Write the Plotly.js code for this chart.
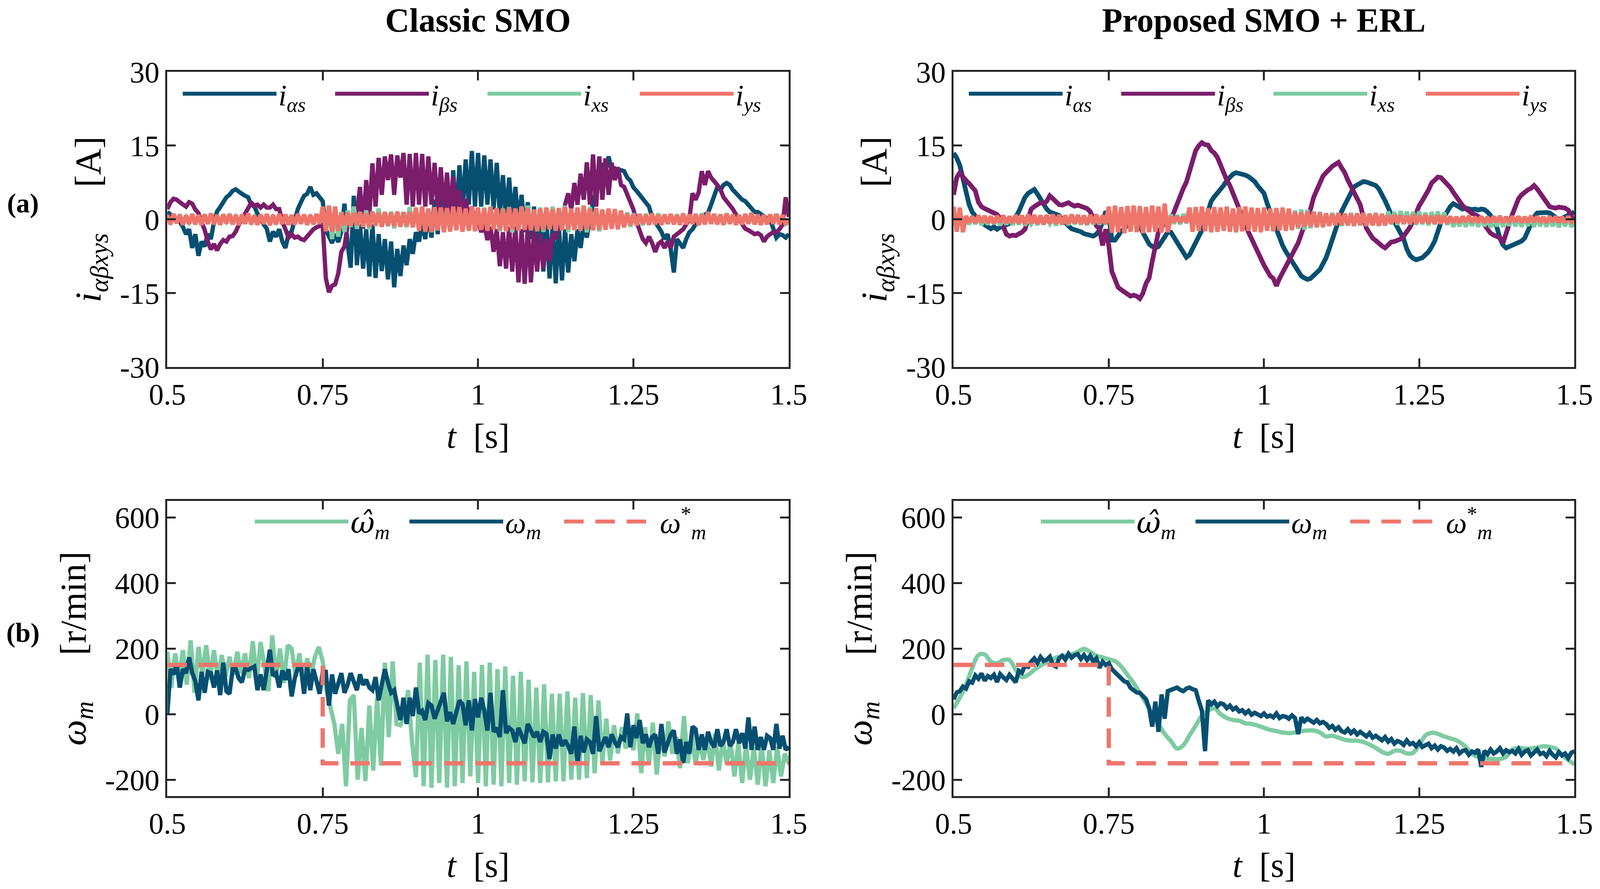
<!DOCTYPE html>
<html>
<head>
<meta charset="utf-8">
<script src="https://cdn.plot.ly/plotly-3.0.1.min.js"></script>
<style>
  html, body { margin: 0; padding: 0; background: #fff; overflow: hidden; }
  #graph { width: 100vw; height: 100vh; }
</style>
</head>
<body>
<div id="graph"></div>
<script>
// time base shared by every sampled series (seconds)
var tStart = 0.5;
var dtFast = 0.005;      // 201 samples, 0.5 .. 1.5
var dtEst = 0.00625;     // 161 samples for the classic speed estimate
var dtSlow = 0.01;       // 101 samples for the smooth estimate

var tickT = [0.5, 0.75, 1, 1.25, 1.5];
var tickTText = ['0.5', '0.75', '1', '1.25', '1.5'];
var tickI = [-30, -15, 0, 15, 30];
var tickIText = ['-30', '-15', '0', '15', '30'];
var tickW = [-200, 0, 200, 400, 600];
var tickWText = ['-200', '0', '200', '400', '600'];

// ---- (a) Classic SMO currents [A]
var clAlpha = [
  1.5, 1.0, 0.5, 0, -0.5, -1.5, -3, -2, -5.8, -3, -7.4, -4.5, -5.5, -3, -4, -0.5, 1.6, 2.5, 3.5, 4.5,
  5, 5.8, 6.1, 5.5, 5.2, 4.8, 4.5, 3, 2.6, 1.2, 0, -1, -1.9, -4.5, -2.5, -3.5, -2, -4.5, -5.8, -3,
  -2.4, 0, 2.1, 3.5, 4.8, 5.2, 6.6, 5, 5.3, 4.5, 3.7, -2.1, -3.5, -4.8, -3, -4.6, -2.5, 3.2, -5, -9.8,
  4.8, -9.3, -1, -10, -2, -11.6, -1, -11.9, -3, -10.5, -4, -12.2, -4.5, -13.8, -6, -11.5, -5.3, -9.3, -4, -7,
  -2.6, -4.5, -0.5, -4, 1.5, -3.7, 4, -3, 6.5, -2, 7.9, -1, 10, 0, 11, 1.5, 12.2, 3, 13.9, 2.6,
  13.5, 2.6, 13, 3, 12.2, 2, 11.5, 1, 9, 0, 8.5, -0.5, 6.6, -1, 5, -2.6, 3.5, -4, 2.6, -5.3,
  1, -10.6, 0, -12, -1, -13, -1.3, -12.4, -2, -10.8, -3, -8.5, -2, -5.8, -1, -3.7, 0.5, 3, 6, 10.6,
  11, 9.5, 12.8, 10, 10.3, 9.5, 10, 9.8, 8.5, 7.9, 6.5, 5.8, 5, 4.5, 3.5, 2.6, 0.5, -0.5, -1.3, -2.5,
  -4, -3, -6, -10.8, -4, -5, -5.8, -4, -2.6, -2, -1, -0.5, 0.5, 1, 1.3, 3, 5, 6.6, 6, 7,
  7.4, 7, 6, 5.3, 4.5, 4, 3.7, 3, 2.1, 1.5, 1.5, 1.1, 0.5, 0.2, 0, -2, -3.7, -3, -3.2, -3.7,
  -3
];
var clBeta = [
  2.1, 3.5, 4.2, 4, 3.5, 3, 2.6, 3.5, 3.2, 2, 1.3, -0.5, -2.1, -4.5, -6.1, -5, -6.3, -5, -4.2, -4.5,
  -3.5, -3.4, -2.5, -1.1, 0, 1.3, 2.5, 3.4, 2.8, 3, 2.4, 3, 2.4, 2.4, 3, 2.1, 2.1, -0.5, -2, -3.7,
  -3, -3.7, -3.5, -4, -4.2, -3.5, -2.6, -2, -1.6, -1.3, -1.1, -11.9, -14.8, -13.5, -13.2, -11, -6.6, -5.5, -1.3, -0.5,
  0, 1, 6.6, -1.9, 8, 0.5, 11.4, 2.6, 12.5, 5, 12.8, 8, 13.2, 5, 13, 8.5, 13.5, 3, 13.3, 2.6,
  13.5, 3, 13.3, 2.6, 12.8, 3, 11.5, 2, 10.6, 1.3, 9.5, 1.3, 8.7, 1, 6, 0.5, 4.2, 0, 2.6, -0.5,
  0, -2.6, -1, -4.2, -1.5, -6.6, -2, -9.5, -2.6, -10, -1.5, -10.6, -1.3, -12.8, -2, -13.1, -1.3, -12.8, -2.5, -10.6,
  -3, -10, -4, -8.5, -3, -4, 1.3, -1.3, 3, 5.3, 2, 7.4, 3, 9.3, 4, 11.6, 3, 13.2, 2.6, 12.8,
  4, 12.4, 5, 11.5, 8, 10.6, 7, 6.6, 5, 3.7, 2, -0.5, -2.1, -4, -4.8, -3.5, -4.8, -6.6, -5, -4.5,
  -5.8, -4.5, -5.8, -3.5, -3, -2.4, -2, -1, 0, 5.3, 4, 5.5, 9.8, 7, 9.8, 8.5, 7.9, 7, 6.1, 4.5,
  3.7, 3, 2.1, 1, 0, -1, -1.9, -2.2, -2.6, -3, -2.8, -3.2, -4.5, -3.5, -3, -2.6, -2.6, -2, -1, 4.5,
  0.5
];
var clX = [
  0.6, -0.5, 0.5, -0.6, 0.7, -0.4, 0.5, -0.6, 0.4, -0.5, 0.6, -0.7, 0.5, -0.4, 0.6, -0.5, 0.7, -0.6, 0.5, -0.5,
  0.6, -0.6, 0.5, -0.5, 0.7, -0.6, 0.6, -0.5, 0.5, -0.7, 0.6, -0.5, 0.7, -0.6, 0.5, -0.5, 0.6, -0.6, 0.7, -0.5,
  0.6, -0.5, 0.5, -0.7, 0.6, -0.6, 0.5, -0.5, 0.6, -0.6, 0.8, -1.5, 2.5, -4, 2, -3.5, 1.5, -2.5, 1.8, -1.5,
  2.6, -1.9, 1.5, -1.5, 1.8, -2, 1.5, -1.2, 2.2, -1.5, 1.2, -1.4, 1.6, -1.8, 1.3, -1.2, 1.5, -1.6, 2.5, -1.5,
  1.8, -1.5, 2.5, -1.8, 2.2, -1.6, 1.6, -2.2, 2.4, -1.5, 1.8, -2.5, 1.5, -1.8, 2, -1.5, 1.6, -2, 1.8, -1.6,
  2, -2, 2.4, -2.2, 2.6, -1.8, 2, -2.4, 2.2, -2, 2.5, -2.6, 2.2, -2, 2.6, -1.8, 2.8, -2.2, 2, -2,
  2.4, -2.5, 2, -1.8, 2.6, -2.2, 2.2, -2, 2.8, -2.6, 2, -2.2, 2.4, -1.8, 2.2, -2.6, 2.5, -2, 2.2, -2.4,
  1.8, -1.6, 1.5, -1.4, 1.6, -1.5, 1.3, -1.2, 1.4, -1.5, 1.2, -1.1, 1, -1.2, 1.1, -1, 1, -0.9, 1.2, -1,
  0.8, -0.9, 0.9, -0.7, 1, -0.8, 0.7, -0.8, 0.9, -0.7, 0.8, -0.8, 1.2, -0.6, 0.8, -0.7, 0.9, -0.8, 0.7, -0.9,
  0.8, -0.7, 0.7, -0.8, 0.9, -0.6, 0.8, -0.7, 0.6, -0.8, 0.7, -0.6, 0.8, -0.7, 0.6, -0.7, 0.8, -0.6, 0.7, -0.8,
  0
];
var clY = [
  0.9, -1, 1.1, -0.8, 1, -1.1, 0.8, -0.9, 1.1, -1, 0.9, -1.1, 1, -0.9, 1.2, -1, 0.9, -1.1, 1, -0.8,
  1.1, -1, 0.9, -1.1, 1, -0.9, 1.2, -1, 0.8, -1.1, 1, -0.9, 1.1, -1.2, 0.9, -1, 1.1, -0.9, 1, -1.1,
  0.9, -1, 1.1, -0.9, 1, -1.1, 0.9, -1, 1.1, -0.9, 2.6, -2.4, 2.8, -2.5, 2.6, -2.3, 1.3, -1.2, 1.4, -1.3,
  1.3, -1.2, 1.5, -1.4, 1.2, -1.5, 1.6, -1.3, 1.4, -1.5, 1.5, -1.2, 1.3, -1.4, 1.6, -1.5, 1.4, -1.3, 1.5, -1.6,
  2.4, -2.3, 2.6, -2.5, 2.2, -2.6, 2.5, -2.2, 2.4, -2.6, 2.3, -2.4, 2.6, -2.2, 2.5, -2.5, 2.2, -2.3, 2.6, -2.4,
  2.4, -2.1, 2.2, -2.3, 2.5, -2, 2.3, -2.2, 2.1, -2.4, 2.4, -2, 2.2, -2.3, 2.6, -2.1, 2.3, -2.2, 2, -2.4,
  2.2, -2.1, 2.4, -2, 2.1, -2.3, 2.3, -2.2, 2.5, -2, 2.2, -2.1, 2.4, -2.3, 2.8, -2, 2.2, -2.2, 2.3, -2.1,
  2, -2.1, 2.2, -1.9, 2.1, -2, 1.8, -1.6, 1.2, -1.1, 1, -1.2, 1.1, -0.9, 1, -1.1, 1.2, -1, 0.9, -1.1,
  1, -0.9, 1.1, -1, 0.9, -1.1, 1.2, -1, 1, -0.9, 1.1, -1.2, 1, -1, 1.5, -0.9, 1.1, -1, 1, -1.1,
  1.2, -0.9, 1, -1.1, 0.9, -1, 1.1, -0.9, 1.3, -1, 1, -1.1, 0.9, -1, 1, -0.9, 1.1, -1, 0.9, -1,
  0
];

// ---- (a) Proposed SMO + ERL currents [A]
var prAlpha = [
  13.5, 12.5, 11, 8, 5.5, 3, 1.5, 0.7, 0.3, -0.5, -1.1, -1.5, -1.9, -1.5, -2, -1.6, -1.3, -1.1, -0.8, -0.2,
  0.5, 1.6, 3.2, 4.5, 5.3, 5.8, 6.1, 5.2, 4, 3, 2.1, 1.5, 1.2, 0.9, 0.8, 0, -0.8, -1.3, -1.9, -2.1,
  -2.2, -2.5, -2.9, -3, -3.2, -3.4, -3, -2.2, -0.5, 1.6, 0.8, -4.2, -4.2, -3.2, -2.4, -1.9, -1, -0.3, -0.5, -0.6,
  -1.5, -2.8, -4, -5, -5.5, -5.8, -5.5, -4.6, -3.3, -2.6, -2.6, -3.6, -5, -6, -7, -7.7, -7.2, -6, -4.6, -3.2,
  -2.2, -0.3, 1.5, 3.7, 4.6, 5.3, 6.1, 6.9, 7.9, 8.7, 9.2, 9.5, 9.4, 9.3, 9, 8.7, 8.2, 7.7, 6.8, 6.1,
  5.3, 3.3, 1.8, -0.3, -2, -4, -5.3, -6.5, -7.5, -8.8, -9.8, -10.8, -11.5, -11.9, -12.2, -12, -11.5, -11, -10.2, -9,
  -7.8, -6, -4, -2, 0, 1.6, 2.9, 4.2, 5.5, 6.6, 7, 7.3, 7.7, 7.6, 7.4, 7.2, 6.9, 6.2, 5.2, 3.8,
  2.4, 0.8, -0.5, -1.6, -2.6, -4, -6, -7.3, -7.9, -8.2, -8, -7.8, -7.2, -6.6, -5.6, -4.4, -2.5, -0.6, 0.5, 1.8,
  2.6, 3.2, 2.8, 2.4, 2.1, 2.3, 2.1, 2, 2.1, 1.9, 2.1, 2, 1.5, 0.8, -0.3, -1.5, -3.8, -5.2, -5.8, -5.5,
  -5.3, -5.1, -4.8, -4.4, -3.8, -2.4, -0.5, 0.5, 1.3, 1.4, 1.3, 1.4, 1.3, 0.8, 0.5, 0, 0.2, 0.5, 1, 1.3,
  1.5
];
var prBeta = [
  5, 8.5, 9.5, 8.5, 7.9, 7.3, 6.5, 5.8, 3.5, 2.6, 2.2, 1.9, 1.6, 1.3, 1, 0.2, -1.6, -3, -3.4, -3.2,
  -3.3, -3, -2.6, -2, 0.5, 2.1, 2.6, 3, 3.4, 3.2, 3.7, 4.8, 4.2, 3.5, 3, 2.9, 3.2, 3.4, 3, 2.7,
  2.9, 2.6, 2.4, 2.2, 1.6, 0, -1.3, -1.9, -5.3, -2, -5.3, -10.6, -12.4, -13.8, -14.3, -14.8, -15.2, -15.6, -15.4, -15.6,
  -16.1, -15, -13, -11.9, -8.5, -5, -2.5, -1.5, -1, -0.5, 0.2, 1.5, 3.2, 5, 6.3, 7.6, 9.8, 12, 14, 15,
  15.6, 15.2, 15.1, 14, 13.5, 12.6, 11, 9.5, 8, 6.9, 5.4, 4, 2.6, 1, -1, -2.6, -4, -5.3, -6.9, -8,
  -9.3, -10.4, -11.5, -12, -13.5, -12, -10.8, -9.8, -8.8, -7.6, -6, -4.8, -3, -1.3, 0.5, 2.1, 4.5, 6, 7.5, 8.8,
  9.5, 10.2, 10.8, 11.2, 11.6, 10.5, 9.5, 8, 6.8, 5.2, 4.5, 3, 0.5, -1.8, -2.8, -3.8, -4.3, -5, -5.4, -5.8,
  -5.2, -4.6, -4.5, -4.3, -4, -3.4, -2.6, -1.6, -0.3, 1.4, 2.8, 3.8, 4.8, 6, 7.4, 8, 8.6, 8.5, 7.9, 7.2,
  6.5, 5.5, 4.5, 3.6, 2.8, 2.2, 1.6, 1.2, 1, 0.6, 0.2, -1.1, -1.9, -2.8, -3.2, -3.5, -3.7, -4.8, -2.8, -0.5,
  1, 2.6, 4.2, 5, 5.6, 6, 6.3, 6.9, 6.2, 5.2, 4.2, 3.2, 2.6, 2.4, 2.3, 2.5, 2.5, 2.3, 1.9, 0.8,
  -1
];
var prX = [
  1.5, -1.8, 1.6, -1.5, 0.3, -1, 0.2, -0.9, 0.3, -1.1, 0.2, -1, 0.1, -0.9, 0.3, -1.2, 0.2, -1, 0.3, -1.1,
  0.2, -1, 0.3, -1.2, 0.1, -0.9, 0.2, -1.1, 0.3, -1, 0.2, -0.9, 0.1, -1.2, 0.3, -1, 0.2, -1.1, 0.3, -0.9,
  0.2, -1, 0.1, -1.1, 0.3, -0.9, 0.2, -1, 0.3, -1, 1.5, -1.8, 1.8, -1.5, 1.6, -2, 1.8, -1.6, 1.5, -1.8,
  1.7, -1.6, 1.5, -1.9, 1.8, -1.5, 1.6, -1.8, 1.5, -1.6, 1, -0.9, 0.9, -1, 1.1, -0.8, 1, -1, 1.2, -1.4,
  1.3, -1.8, 1.2, -1.6, 1.4, -1.8, 1.5, -1.5, 1.2, -1.9, 1.3, -1.6, 1.4, -1.7, 1.2, -1.8, 1.5, -1.6, 1.3, -1.8,
  2, -2.1, 1.8, -2.2, 2.2, -1.9, 1.9, -2, 2.1, -2.2, 1.8, -1.9, 2, -2.1, 1.9, -1.8, 1.6, -1.5, 1.5, -1.6,
  1.2, -1.2, 1.3, -1.1, 1.2, -1.3, 1.1, -1.2, 1.3, -1.1, 1.2, -1.2, 1, -1.3, 1.2, -1.1, 1.3, -1.2, 1.1, -1,
  1.6, -1, 1.5, -1.1, 1.7, -0.9, 1.6, -1, 1.5, -1.1, 1.6, -1, 1.4, -1.2, 1.5, -1, 1.6, -0.9, 1.4, -1.1,
  0.5, -1.5, 0.4, -1.4, 0.6, -1.5, 0.5, -1.3, 0.4, -1.5, 0.6, -1.4, 0.5, -1.6, 0.4, -1.4, 0.5, -1.5, 0.6, -1.3,
  0.5, -1.4, 0.4, -1.5, 0.6, -1.3, 0.5, -1.5, 0.4, -1.4, 0.6, -1.5, 0.5, -1.4, 0.4, -1.6, 0.5, -1.4, 0.6, -1.5,
  -0.5
];
var prY = [
  2.6, -2.5, 2.4, -2.6, 0.7, -0.6, 0.6, -0.7, 0.8, -0.6, 0.7, -0.7, 0.6, -0.8, 0.7, -0.6, 0.8, -0.7, 0.6, -0.7,
  0.9, -0.8, 0.8, -0.9, 1, -0.8, 0.9, -0.9, 0.8, -1, 0.9, -0.8, 1, -0.9, 0.9, -1, 0.8, -0.9, 1, -0.8,
  0.9, -0.9, 0.8, -1, 0.9, -0.8, 1, -0.9, 0.8, -0.9, 2.6, -2.7, 2.8, -2.6, 2.5, -2.8, 2.7, -2.5, 2.8, -2.6,
  2.7, -2.8, 2.5, -2.6, 2.8, -2.5, 2.6, -2.7, 3.2, -2.6, 0.6, -0.5, 0.6, -0.6, 0.5, -0.6, 2.4, -2.5, 2.5, -2.3,
  2.6, -2.4, 2.3, -2.6, 2.5, -2.5, 2.4, -2.3, 2.6, -2.5, 2.2, -2.6, 2.5, -2.4, 2.6, -2.3, 2.4, -2.5, 2.3, -2.6,
  2.4, -2.3, 2.2, -2.4, 2.3, -2.2, 2.4, -2.3, 2.2, -2.1, 1.5, -1.6, 1.4, -1.5, 1.6, -1.4, 1.5, -1.6, 1.4, -1.5,
  1.2, -1.3, 1.1, -1.2, 1.3, -1.1, 1.2, -1.2, 1.1, -1.3, 1.2, -1.1, 1.3, -1.2, 1.1, -1.2, 1.2, -1.3, 1.1, -1.2,
  0.8, -0.8, 0.9, -0.7, 0.8, -0.9, 0.7, -0.8, 0.9, -0.8, 0.8, -0.7, 0.9, -0.8, 0.7, -0.9, 0.8, -0.8, 0.7, -0.8,
  0.6, -0.6, 0.5, -0.7, 0.6, -0.5, 0.7, -0.6, 0.5, -0.6, 0.6, -0.7, 0.5, -0.6, 0.6, -0.5, 0.7, -0.6, 0.5, -0.6,
  0.6, -0.5, 0.6, -0.6, 0.5, -0.6, 0.7, -0.5, 0.6, -0.6, 0.5, -0.7, 0.6, -0.5, 0.6, -0.6, 0.5, -0.6, 0.6, -0.5,
  0
];

// ---- (b) speed [r/min]
var clSpeedEst = [
  190, 80, 185, 110, 195, 90, 225, 65, 205, 120, 210, 105, 195, 110, 180, 115,
  175, 120, 190, 125, 185, 110, 222, 100, 220, 150, 70, 240, 110, 200, 95, 210,
  200, 115, 185, 95, 170, 120, 175, 205, 160, 70, 20, -30, -121, -30, -220, 42,
  58, -200, -42, -204, 26, -172, 50, -157, 157, -70, 161, -30, -34, -6, 73, -85,
  -192, 157, -220, 181, -224, 165, -210, 181, -224, 175, -220, 149, -210, 161, -190, 129,
  -210, 150, -220, 157, -215, 137, -220, 145, -210, 117, -215, 129, -205, 105, -208, 81,
  -210, 91, -208, 62, -205, 62, -205, 69, -200, 50, -200, 64, -195, 58, -180, 42,
  -150, -14, -141, -34, -120, -40, -105, -50, -110, 2, -180, -40, -150, -26, -184, -60,
  -129, -22, -121, -70, -165, -6, -150, -61, -153, -80, -140, -70, -160, -60, -172, -80,
  -150, -85, -190, -90, -210, -95, -200, -100, -215, -90, -220, -110, -210, -100, -190, -120,
  -150
];
var clSpeed = [
  0, 137, 121, 153, 81, 137, 125, 173, 125, 101, 42, 129, 65, 129, 125, 81, 133, 58, 157, 70,
  62, 137, 139, 109, 97, 137, 135, 141, 145, 73, 121, 73, 135, 196, 117, 125, 81, 133, 105, 137,
  54, 109, 141, 141, 62, 145, 73, 137, 100, 62, 129, 129, 26, 121, 62, 89, 125, 65, 89, 125,
  100, 73, 121, 89, 105, 81, 73, 113, 42, 97, 137, 97, 65, 73, 20, -18, 50, -30, 50, -6,
  81, 2, 10, -18, 34, 26, -14, 10, 34, 65, -22, 6, -30, 10, 42, 30, -34, 42, -50, 46,
  -10, 50, 10, -50, 65, -54, -42, -70, 73, -58, -42, -50, -85, -42, -70, -89, -30, -50, -70, -54,
  -85, -54, -60, -137, -62, -105, -62, -97, -80, -97, -121, -38, -153, -66, -117, -77, -85, -121, -6, -113,
  -90, -70, -101, -62, -85, -101, -70, -77, 2, -101, -34, -73, -18, -89, -62, -101, -70, -62, -121, -30,
  -117, -93, -62, -50, -121, -77, -149, -85, -121, -38, -46, -109, -62, -109, -54, -85, -101, -46, -97, -85,
  -46, -97, -85, -46, -89, -58, -105, -10, -109, -38, -109, -70, -109, -66, -73, -109, -30, -105, -66, -109,
  -100
];
var prSpeedEst = [
  18, 50, 90, 140, 180, 182, 160, 155, 165, 165,
  135, 113, 120, 135, 148, 158, 168, 175, 178, 182,
  190, 199, 190, 178, 173, 167, 162, 145, 120, 95,
  65, 33, 0, -30, -60, -82, -105, -95, -65, -35,
  -5, 10, 18, 0, -12, -18, -20, -28, -30, -35,
  -42, -48, -52, -56, -58, -56, -52, -50, -50, -56,
  -68, -66, -72, -78, -81, -81, -85, -93, -103, -115,
  -121, -112, -112, -120, -118, -95, -65, -57, -60, -68,
  -74, -80, -92, -110, -127, -133, -136, -137, -137, -130,
  -108, -103, -105, -105, -102, -98, -100, -105, -125, -140,
  -153
];
var prSpeed = [
  45, 66, 70, 84, 78, 100, 96, 118, 108, 124, 102, 116, 110, 120, 98, 122, 112, 104, 120, 110,
  97, 132, 126, 148, 144, 160, 170, 156, 174, 162, 166, 175, 150, 145, 170, 178, 166, 184, 172, 180,
  183, 168, 180, 165, 178, 160, 170, 141, 160, 150, 155, 137, 129, 118, 109, 100, 97, 80, 73, 66,
  65, 56, 45, 18, -38, 38, -54, 60, -14, 70, 73, 78, 81, 74, 70, 78, 81, 76, 73, 40,
  10, -113, 42, 30, 38, 24, 33, 30, 18, 26, 14, 20, 8, 12, 2, 10, -2, 4, 0, -6,
  2, -8, -4, -10, 2, -12, -6, -8, -14, -4, -12, -61, -10, -22, -14, -20, -26, -18, -28, -24,
  -30, -42, -36, -48, -40, -52, -56, -46, -58, -50, -62, -54, -60, -68, -58, -72, -66, -74, -80, -70,
  -84, -76, -90, -82, -86, -94, -80, -92, -88, -98, -86, -100, -94, -90, -104, -96, -108, -98, -102, -112,
  -106, -114, -104, -120, -112, -110, -124, -114, -118, -108, -161, -112, -122, -108, -120, -114, -104, -120, -110, -116,
  -112, -120, -106, -124, -114, -110, -126, -116, -108, -122, -118, -128, -112, -124, -132, -116, -126, -120, -134, -118,
  -113
];
var refTime = [0.5, 0.75, 0.75, 1.5];
var refSpeed = [150, 150, -150, -150];

var cBlue = '#064f71', cPurple = '#7b1d6b', cGreen = '#7ecba2', cSalmon = '#ef756b';
var axisColor = '#262626';
var serif = 'Liberation Serif, Times New Roman, serif';

// size the figure to the visible page so nothing falls outside the photo
var W = window.innerWidth || 4262;
var H = window.innerHeight || 2277;
var sx = W / 4262;

function sampled(values, step, name, color, axes, legendId, extra) {
  var tr = {
    type: 'scatter', mode: 'lines', y: values, x0: tStart, dx: step,
    name: name, xaxis: axes[0], yaxis: axes[1], legend: legendId,
    line: {color: color, width: 11}
  };
  for (var k in extra) tr[k] = extra[k];
  return tr;
}

var nA = '<i>i</i><sub><i>αs</i></sub>';
var nB = '<i>i</i><sub><i>βs</i></sub>';
var nX = '<i>i</i><sub><i>xs</i></sub>';
var nY = '<i>i</i><sub><i>ys</i></sub>';
var nEst = '<span style="font-family:DejaVu Serif;font-style:italic">ω̂</span><sub><i>m</i></sub>';
var nMeas = '<i>ω</i><sub><i>m</i></sub>';
var nRef = '<i>ω</i><sup>*</sup><sub><i>m</i></sub>';

var data = [
  sampled(clAlpha, dtFast, nA, cBlue, ['x', 'y'], 'legend'),
  sampled(clBeta, dtFast, nB, cPurple, ['x', 'y'], 'legend'),
  sampled(clX, dtFast, nX, cGreen, ['x', 'y'], 'legend'),
  sampled(clY, dtFast, nY, cSalmon, ['x', 'y'], 'legend'),
  sampled(prAlpha, dtFast, nA, cBlue, ['x2', 'y2'], 'legend2', {line: {color: cBlue, width: 12}}),
  sampled(prBeta, dtFast, nB, cPurple, ['x2', 'y2'], 'legend2', {line: {color: cPurple, width: 12}}),
  sampled(prX, dtFast, nX, cGreen, ['x2', 'y2'], 'legend2'),
  sampled(prY, dtFast, nY, cSalmon, ['x2', 'y2'], 'legend2'),
  sampled(clSpeedEst, dtEst, nEst, cGreen, ['x3', 'y3'], 'legend3'),
  sampled(clSpeed, dtFast, nMeas, cBlue, ['x3', 'y3'], 'legend3'),
  {type: 'scatter', mode: 'lines', x: refTime, y: refSpeed, name: nRef, xaxis: 'x3', yaxis: 'y3',
   legend: 'legend3', line: {color: cSalmon, width: 11, dash: '50px,30px'}},
  sampled(prSpeedEst, dtSlow, nEst, cGreen, ['x4', 'y4'], 'legend4', {line: {color: cGreen, width: 11, shape: 'spline'}}),
  sampled(prSpeed, dtFast, nMeas, cBlue, ['x4', 'y4'], 'legend4'),
  {type: 'scatter', mode: 'lines', x: refTime, y: refSpeed, name: nRef, xaxis: 'x4', yaxis: 'y4',
   legend: 'legend4', line: {color: cSalmon, width: 11, dash: '50px,30px'}}
];

function xAxis(domain, anchor) {
  return {
    domain: domain, anchor: anchor, range: [0.5, 1.5],
    tickvals: tickT, ticktext: tickTText,
    ticks: 'inside', ticklen: 22, tickwidth: 5, tickcolor: axisColor,
    showline: true, linewidth: 5, linecolor: axisColor, mirror: 'ticks',
    showgrid: false, zeroline: false,
    tickfont: {family: serif, size: 76, color: '#000'},
    title: {text: '<i>t</i>  [s]', font: {family: serif, size: 88, color: '#000'}, standoff: 36}
  };
}
function yAxis(domain, anchor, range, ticks, labels, title) {
  return {
    domain: domain, anchor: anchor, range: range, tickvals: ticks, ticktext: labels,
    ticks: 'inside', ticklen: 22, tickwidth: 5, tickcolor: axisColor,
    showline: true, linewidth: 5, linecolor: axisColor, mirror: 'ticks',
    showgrid: false, zeroline: false,
    tickfont: {family: serif, size: 76, color: '#000'},
    title: {text: title, font: {family: serif, size: 94, color: '#000'}, standoff: 20}
  };
}

var leftX = [0.1046, 0.4930], rightX = [0.5960, 0.9840];
var topY = [0.5872, 0.9192], botY = [0.1045, 0.4365];
var titleI = '<i>i</i><sub><i>αβxys</i></sub>     [A]';
var titleW = '<i>ω</i><sub><i>m</i></sub>     [r/min]';

function legendBox(x, y, gap) {
  return {
    x: x, y: y, xanchor: 'left', yanchor: 'middle', orientation: 'h',
    itemwidth: Math.round(250 * sx), entrywidth: Math.round(gap * sx), entrywidthmode: 'pixels',
    bgcolor: 'rgba(0,0,0,0)', borderwidth: 0,
    font: {family: serif, size: 76, color: '#000'}
  };
}

function label(text, x, y, size) {
  return {text: text, x: x, y: y, xref: 'paper', yref: 'paper', xanchor: 'center', yanchor: 'middle',
          showarrow: false, font: {family: serif, size: size, color: '#000'}};
}

var layout = {
  width: W, height: H,
  margin: {l: 0, r: 0, t: 0, b: 0},
  paper_bgcolor: '#fff', plot_bgcolor: '#fff',
  showlegend: true, hovermode: false,
  xaxis: xAxis(leftX, 'y'),
  yaxis: yAxis(topY, 'x', [-30, 30], tickI, tickIText, titleI),
  xaxis2: xAxis(rightX, 'y2'),
  yaxis2: yAxis(topY, 'x2', [-30, 30], tickI, tickIText, titleI),
  xaxis3: xAxis(leftX, 'y3'),
  yaxis3: yAxis(botY, 'x3', [-250, 650], tickW, tickWText, titleW),
  xaxis4: xAxis(rightX, 'y4'),
  yaxis4: yAxis(botY, 'x4', [-250, 650], tickW, tickWText, titleW),
  legend: legendBox(0.113, 0.8946, 140),
  legend2: legendBox(0.6043, 0.8946, 140),
  legend3: legendBox(0.158, 0.4133, 147),
  legend4: legendBox(0.6493, 0.4133, 147),
  annotations: [
    label('<b>Classic SMO</b>', 0.2988, 0.9772, 86),
    label('<b>Proposed SMO + ERL</b>', 0.79, 0.9772, 86),
    label('<b>(a)</b>', 0.0143, 0.7712, 70),
    label('<b>(b)</b>', 0.0143, 0.2885, 70)
  ]
};

Plotly.newPlot('graph', data, layout, {staticPlot: true, displayModeBar: false});
</script>
</body>
</html>
